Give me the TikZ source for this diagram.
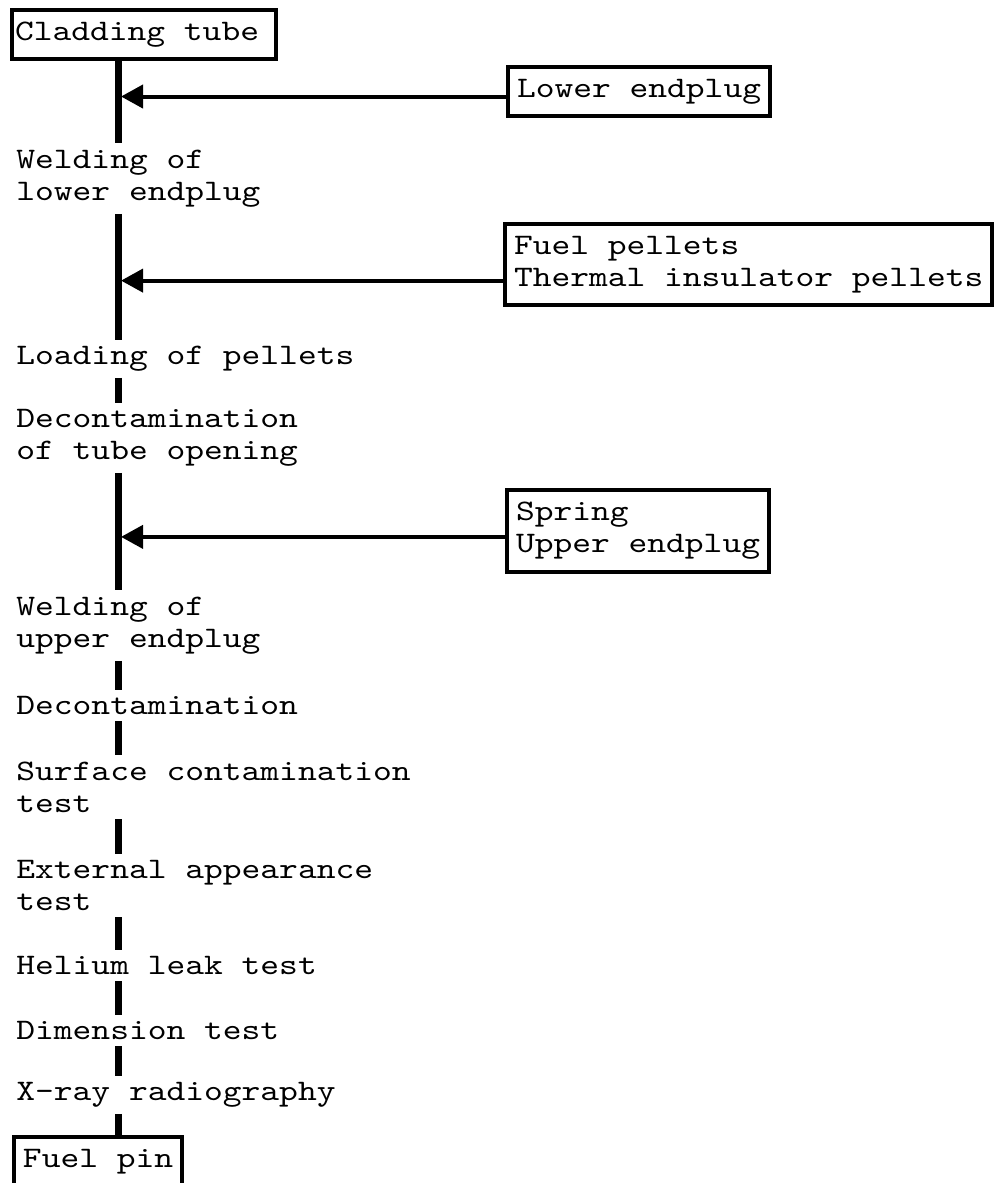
\documentclass[tikz,border=0pt]{standalone}
\usepackage{fontspec}
\usepackage{tikz}
\usetikzlibrary{arrows.meta,positioning}
\newfontfamily\pinfont{lmmono10-regular.otf}[FakeStretch=1.2]
\newcommand{\pinsize}{\pinfont\fontsize{14.9pt}{16.2pt}\selectfont}

\begin{document}
\begin{tikzpicture}[
  x=0.5pt, y=-0.5pt,
  box/.style={draw, line width=2pt, align=left, font=\pinsize,
              inner xsep=4.5pt, inner ysep=6pt},
  stage/.style={align=left, font=\pinsize, inner xsep=0pt, inner ysep=3pt},
  flow/.style={line width=3.5pt},
  arr/.style={-{Triangle[length=11pt,width=11.5pt]}, line width=2pt, shorten >=1.5pt}
]
\useasboundingbox (0,0) rectangle (1000,1183);
\coordinate (spine) at (118,0);
\node[box, anchor=north west, inner xsep=1.5pt] (clad) at (10,8) {Cladding tube\hspace*{7pt}};
\node[stage, below=80pt of clad.base west, anchor=base west, xshift=3pt] (weld1)
  {Welding of\\ lower endplug};
\node[stage, below=82pt of weld1.base west, anchor=base west] (load) {Loading of pellets};
\node[stage, below=47.5pt of load.base west, anchor=base west] (decon1)
  {Decontamination\\ of tube opening};
\node[stage, below=94pt of decon1.base west, anchor=base west] (weld2)
  {Welding of\\ upper endplug};
\node[stage, below=33.5pt of weld2.base west, anchor=base west] (decon2) {Decontamination};
\node[stage, below=49pt of decon2.base west, anchor=base west] (surf)
  {Surface contamination\\ test};
\node[stage, below=49pt of surf.base west, anchor=base west] (ext)
  {External appearance\\ test};
\node[stage, below=32pt of ext.base west, anchor=base west] (helium) {Helium leak test};
\node[stage, below=32.5pt of helium.base west, anchor=base west] (dim) {Dimension test};
\node[stage, below=30.5pt of dim.base west, anchor=base west] (xray) {X-ray radiography};
\node[box, below=33.5pt of xray.base west, anchor=base west, xshift=-2pt] (pin) {Fuel pin};
% parts fed in from the right
\node[box, anchor=north west] (lower) at (506,65) {Lower endplug};
\node[box, anchor=north west] (pellets) at (503,222) {Fuel pellets\\ Thermal insulator pellets};
\node[box, anchor=north west] (upper) at (505,488) {Spring\\ Upper endplug};
\draw[flow] (clad.south -| spine) -- (weld1.north -| spine);
\draw[flow] (weld1.south -| spine) -- (load.north -| spine);
\draw[flow] (load.south -| spine) -- (decon1.north -| spine);
\draw[flow] (decon1.south -| spine) -- (weld2.north -| spine);
\draw[flow] (weld2.south -| spine) -- (decon2.north -| spine);
\draw[flow] (decon2.south -| spine) -- (surf.north -| spine);
\draw[flow] (surf.south -| spine) -- (ext.north -| spine);
\draw[flow] (ext.south -| spine) -- (helium.north -| spine);
\draw[flow] (helium.south -| spine) -- (dim.north -| spine);
\draw[flow] (dim.south -| spine) -- (xray.north -| spine);
\draw[flow] (xray.south -| spine) -- (pin.north -| spine);
\draw[arr] ([yshift=-2.5pt]lower.west) -- ([yshift=-2.5pt]lower.west -| spine);
\draw[arr] ([yshift=-8pt]pellets.west) -- ([yshift=-8pt]pellets.west -| spine);
\draw[arr] ([yshift=-3pt]upper.west) -- ([yshift=-3pt]upper.west -| spine);
\end{tikzpicture}
\end{document}
